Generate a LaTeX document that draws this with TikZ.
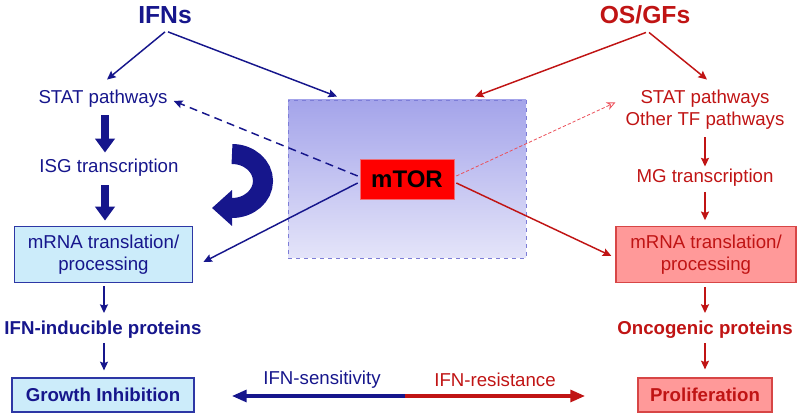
\documentclass[tikz,border=0pt]{standalone}
\usepackage{fontspec}
\setmainfont{Liberation Sans}
\usetikzlibrary{arrows.meta,calc}
\definecolor{navy}{RGB}{22,22,140}
\definecolor{dred}{RGB}{192,20,20}
\definecolor{lbfill}{RGB}{204,236,250}
\definecolor{lbdraw}{RGB}{45,55,165}
\definecolor{rbfill}{RGB}{255,153,153}
\definecolor{rbdraw}{RGB}{215,70,70}
\definecolor{cbtop}{RGB}{164,164,234}
\definecolor{cbbot}{RGB}{228,228,249}
\definecolor{cbdraw}{RGB}{125,125,215}
\begin{document}
\begin{tikzpicture}[x=0.75pt,y=0.75pt,
  txt/.style={inner sep=0pt,font=\fontsize{14}{16.5}\selectfont,align=center},
  btxt/.style={txt,font=\fontsize{14}{16.5}\selectfont\bfseries},
  title/.style={inner sep=0pt,font=\fontsize{18.5}{22}\selectfont\bfseries},
  lbox/.style={txt,fill=lbfill,draw=lbdraw,line width=0.9pt,text=navy},
  rbox/.style={txt,fill=rbfill,draw=rbdraw,line width=0.9pt,text=dred},
  barrow/.style={draw=navy,line width=1.1pt,-{Stealth[length=6.5pt,width=6pt,inset=1pt]}},
  rarrow/.style={draw=dred,line width=1.1pt,-{Stealth[length=6.5pt,width=6pt,inset=1pt]}},
  fatarrow/.style={draw=navy,line width=6pt,-{Triangle[length=10.5pt,width=14.5pt]}},
]
\useasboundingbox (0,0) rectangle (800,417);

% central shaded box
\node[inner sep=0pt,minimum width=178.5pt,minimum height=118.5pt,
      top color=cbtop,bottom color=cbbot,draw=cbdraw,dashed,line width=0.7pt] (cbox) at (407,238) {};

% titles
\node[title,text=navy] (IFNs) at (165,402) {IFNs};
\node[title,text=dred] (OSGF) at (645,402) {OS/GFs};

% left column
\node[txt,text=navy] (statL) at (103,318.5) {STAT pathways};
\node[txt,text=navy] (isg) at (109,249.5) {ISG transcription};
\node[lbox,minimum width=134pt,minimum height=42.5pt] (mrnaL) at (103.5,162.5) {mRNA translation/\\processing};
\node[btxt,text=navy] (ifnp) at (103,87) {IFN-inducible proteins};
\node[lbox,minimum width=136.5pt,minimum height=25.5pt,font=\fontsize{14}{16.5}\selectfont\bfseries] (growth) at (103,22) {Growth Inhibition};

% right column
\node[txt,text=dred] (statR) at (705,307.5) {STAT pathways\\Other TF pathways};
\node[txt,text=dred] (mg) at (705,239) {MG transcription};
\node[rbox,minimum width=135pt,minimum height=41.5pt] (mrnaR) at (706,162.5) {mRNA translation/\\processing};
\node[btxt,text=dred] (onc) at (705,87) {Oncogenic proteins};
\node[rbox,minimum width=100.5pt,minimum height=25.5pt,font=\fontsize{14}{16.5}\selectfont\bfseries] (prolif) at (705,22) {Proliferation};

% mTOR
\node[inner sep=0pt,minimum width=70.5pt,minimum height=30pt,fill=red,draw={rgb,255:red,235;green,110;blue,120},line width=0.5pt,
      font=\fontsize{18}{20}\selectfont\bfseries] (mtor) at (407,238) {mTOR};

% title arrows
\draw[barrow] ($(IFNs.south)+(0,-8)$) -- ($(statL.north)+(4,10)$);
\draw[barrow] ($(IFNs.south)+(3,-8)$) -- ($(cbox.north)+(-70,3)$);
\draw[rarrow] ($(OSGF.south)+(1,-8)$) -- ($(cbox.north)+(68,3)$);
\draw[rarrow] ($(OSGF.south)+(4,-8)$) -- ($(statR.north)+(2,10)$);

% left chain
\draw[fatarrow] ($(statL.south)+(2,-8)$) -- ($(isg.north)+(-4,6)$);
\draw[fatarrow] ($(isg.south)+(-4,-9)$) -- ($(mrnaL.north)+(1.5,5)$);
\draw[barrow] ($(mrnaL.south)+(0.5,-3)$) -- ($(ifnp.north)+(1,8)$);
\draw[barrow] ($(ifnp.south)+(1,-4)$) -- ($(growth.north)+(1,7)$);

% right chain
\draw[rarrow] ($(statR.south)+(0,-8)$) -- ($(mg.north)+(0,2.5)$);
\draw[rarrow] ($(mg.south)+(0,-5)$) -- ($(mrnaR.north)+(-1,6)$);
\draw[rarrow] ($(mrnaR.south)+(-1,-4)$) -- ($(onc.north)+(0,8)$);
\draw[rarrow] ($(onc.south)+(0,-4)$) -- ($(prolif.north)+(0,8)$);

% mTOR arrows
\draw[barrow,dashed,dash pattern=on 6pt off 4pt] ($(mtor.west)+(-2,3)$) -- ($(statL.east)+(6,-2.5)$);
\draw[barrow] ($(mtor.west)+(-2,-4)$) -- ($(mrnaL.east)+(10,-7.5)$);
\draw[draw={rgb,255:red,235;green,80;blue,90},line width=0.6pt,dash pattern=on 2.5pt off 1.5pt,
      -{Stealth[length=6.5pt,width=6pt,open]}] ($(mtor.east)+(2,3)$) -- ($(statR.west)+(-10,7)$);
\draw[rarrow] ($(mtor.east)+(2,-4)$) -- ($(mrnaR.west)+(-4,-1.5)$);

% curved feedback arrow
\draw[navy,line width=15pt,-{Triangle[length=15pt,width=26pt]}]
  (232,263) arc[start angle=90,end angle=-90,x radius=31,y radius=27] -- (212,209);

% bottom sensitivity / resistance arrow
\coordinate (mid) at (405,21);
\coordinate (lt) at (232,21);
\coordinate (rt) at (585,21);
\draw[navy,line width=2.3pt,-{Triangle[length=11pt,width=9pt]}] (mid) -- (lt);
\draw[dred,line width=2.3pt,-{Triangle[length=11pt,width=9pt]}] (mid) -- (rt);
\node[txt,text=navy] (sens) at (322,37) {IFN-sensitivity};
\node[txt,text=dred] (res) at (495,37) {IFN-resistance};
\end{tikzpicture}
\end{document}
